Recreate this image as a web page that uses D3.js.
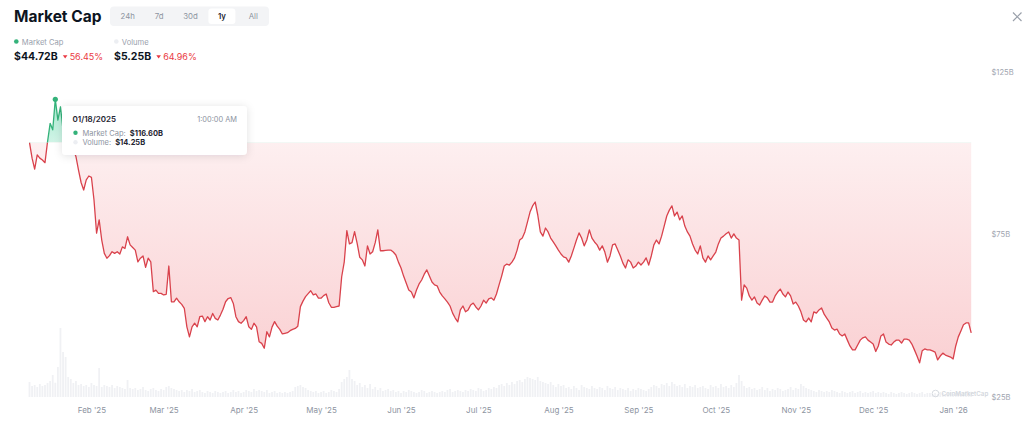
<!DOCTYPE html>
<html><head><meta charset="utf-8">
<script src="https://cdn.jsdelivr.net/npm/d3@7"></script>
<style>
body{margin:0;background:#fff;font-family:Inter,"Noto Sans",sans-serif;}
svg{display:block}
</style>
</head><body>
<svg id="c" width="1024" height="437"></svg>
<script>
const startDate = "2025-01-08";
const marketCap = [
103.3,98.5,95.1,99.5,98.5,97.9,97.1,103.6,109.2,107.2,
116.6,110.2,114.3,107.2,105.1,102,104,101,99,94.8,
91,88.7,91.8,93,92.6,85.6,75.4,79.5,73.3,69.2,
67.7,68.5,69.7,69.2,69.7,69,71.2,70.7,74.3,71.8,
71,70.2,66.6,67.7,68.4,64.9,67.7,66.6,57.4,57.9,
56.9,56.9,56.4,56.6,65.3,54.3,54.3,55.4,54.3,53.5,
52.3,46.6,43.5,46.6,47.7,46.6,49.7,49.9,48.2,49.7,
48.7,50.7,49.2,48.7,50.2,52,54.3,55.3,55.6,53.8,
49.7,48.2,47.7,48.5,49.7,46.6,45.8,47.7,46.6,42,
41.5,40,45.1,43.5,46.5,48.2,46.8,45.8,44.4,44.6,
44.8,45.4,45.8,46.1,46.8,52.8,54.5,55.9,56.8,57.7,
56.4,56.7,55.4,55.4,56.2,56.7,54,52.6,52.6,52.8,
53,62,66.6,76.2,72.1,72.5,75.9,72.3,68,67.2,
65.3,71.5,69,69.7,72.5,76.4,70,70,70.1,70.2,
70.2,69.6,68.7,66.5,64.7,62.2,60.1,57.9,57.3,55.5,
57.9,59.8,61,62.8,64.1,62.2,60.4,59.5,59.2,57.3,
56.1,55.2,54.2,53,50.8,49.3,48.1,51.8,53,51.2,
51.8,53.3,53.9,52.7,51.8,53,54.8,53.9,55.2,55.5,
54.8,56.7,59.5,62.2,65.3,65.9,65.6,66.5,67.8,70.2,
73.3,73.9,75.8,78.8,81.9,83.8,85,81,75.8,74.5,
77,75.8,73.9,72.7,71.5,70.2,69,68.1,67.8,66.5,
68.4,70.8,73.3,75.5,73.9,71.5,73.3,76.4,73.9,72.7,
71.8,70.2,71.5,69.6,66.5,68.4,71.8,72.1,70.2,68.4,
66.2,64.7,67.2,66.5,64.7,65.3,66.5,65.6,66.5,67.8,
65.6,68.4,71.8,73.3,72.1,74.5,77.6,80.7,82.5,83.8,
80.7,81.9,79.5,80.7,77.6,75.8,74.5,72.1,70.2,69,
71.5,67.8,66.5,68.4,67.2,68.4,69.6,72.1,73.9,74.5,
75.2,75.8,73.9,75.2,73.9,73.3,54.8,59.5,58.5,56.1,
54.8,55.8,53.9,53.3,54.8,56.1,55.5,54.2,54.2,56.1,
57.3,58.2,56.7,55.8,57.3,56.1,53.6,54.2,53,51.2,
48.7,48.1,49.3,48.1,51.2,50.8,51.8,52.4,50.5,49.3,
48.1,46.2,45.6,45.9,44.4,43.8,44.4,42.5,40.7,39.5,
39.5,41,42.5,43.2,43.5,42.5,41.9,41.3,39,40.7,
43.8,44.4,41.9,41.3,41,41.9,42.5,42.5,41.6,42.8,
42.8,42.5,41.3,39.5,37.6,35.5,39.2,39.8,39.5,39.5,
39.2,38.8,36.4,37.6,38.5,37.9,37.6,37.3,36.7,40.7,
43.5,45.3,47.2,47.8,47.8,44.72
];
const volume = [
15,11,12,10,13,11,12,14,16,22,
14.25,30,69,45,40,20,18,14,16,12,
13,11,12,10,14,12,11,29,10,12,
11,10,12,9,11,10,9,8,17,9,
8,9,7,8,10,7,6,8,9,7,
6,8,7,10,11,9,8,7,6,7,
5,7,6,8,5,6,7,5,4,6,
5,4,6,5,4,5,6,4,5,7,
5,6,4,5,7,6,5,8,6,7,
6,5,7,4,5,6,4,5,4,5,
4,5,6,10,11,12,10,9,7,6,
5,6,4,5,6,4,5,7,6,5,
8,15,18,20,27,18,16,12,14,10,
12,9,13,8,10,7,9,6,7,8,
6,7,5,6,4,6,5,7,6,5,
4,5,7,6,4,5,6,5,4,5,
6,5,7,8,5,6,7,6,5,7,
6,8,7,6,9,8,6,7,9,8,
10,9,12,13,11,14,12,15,13,16,
17,15,18,20,19,18,17,20,16,15,
14,13,15,12,10,13,11,12,9,10,
8,11,9,7,12,10,9,8,11,9,
8,10,9,7,11,9,8,10,7,9,
8,7,9,6,8,7,9,8,7,6,
8,10,12,11,9,13,12,14,11,15,
13,11,12,10,13,9,11,10,12,9,
10,11,9,8,12,10,11,9,13,10,
11,9,12,10,14,22,16,11,9,10,
8,9,7,8,10,7,9,6,8,7,
9,8,6,7,8,10,7,9,8,13,
11,9,8,7,6,5,7,6,5,6,
5,7,6,5,4,6,5,4,5,6,
4,5,6,4,5,4,5,6,4,5,
4,5,4,3,5,4,3,4,5,4,
3,4,5,4,3,4,5,3,4,4,
3,4,3,5,4,3,4,5,3,4,
5,4,5,6,5,5.25
];
const yTickValues = [25, 75, 125];
const tabLabels = ["24h", "7d", "30d", "1y", "All"];
const selectedTab = "1y";
const summaryLabels = ["Market Cap", "Volume"];
const summaryValues = ["$44.72B", "$5.25B"];
const summaryChanges = ["56.45%", "64.96%"];
const tooltipIndex = 10;
const tooltipDate = "01/18/2025";
const tooltipTime = "1:00:00 AM";
const tooltipMcap = "$116.60B";
const tooltipVol = "$14.25B";

const GREEN = "#34b27a", RED = "#d9424c", GRAY = "#8d94a1";
const svg = d3.select("#c");
const parse = d3.timeParse("%Y-%m-%d");
const dates = marketCap.map((_, i) => d3.timeDay.offset(parse(startDate), i));
const data = dates.map((d, i) => ({date: d, v: marketCap[i], vol: volume[i]}));

const x = d3.scaleTime().domain([dates[0], dates[dates.length - 1]]).range([29.5, 971.2]);
const y = d3.scaleLinear().domain([25, 125]).range([397, 72]);
const yVol = d3.scaleLinear().domain([0, 70]).range([397, 327]);
const yB = y(marketCap[0]);

const defs = svg.append("defs");
defs.append("clipPath").attr("id", "above").append("rect").attr("x", 0).attr("y", 0).attr("width", 1024).attr("height", yB);
defs.append("clipPath").attr("id", "below").append("rect").attr("x", 0).attr("y", yB).attr("width", 1024).attr("height", 437 - yB);
const rg = defs.append("linearGradient").attr("id", "rg").attr("gradientUnits", "userSpaceOnUse")
  .attr("x1", 0).attr("x2", 0).attr("y1", yB).attr("y2", 370);
rg.append("stop").attr("offset", 0).attr("stop-color", "#ea3943").attr("stop-opacity", 0.08);
rg.append("stop").attr("offset", 1).attr("stop-color", "#ea3943").attr("stop-opacity", 0.24);
const gg = defs.append("linearGradient").attr("id", "gg").attr("gradientUnits", "userSpaceOnUse")
  .attr("x1", 0).attr("x2", 0).attr("y1", y(117)).attr("y2", yB);
gg.append("stop").attr("offset", 0).attr("stop-color", "#16c784").attr("stop-opacity", 0.4);
gg.append("stop").attr("offset", 1).attr("stop-color", "#16c784").attr("stop-opacity", 0.2);
const f = defs.append("filter").attr("id", "sh").attr("x", "-20%").attr("y", "-40%").attr("width", "140%").attr("height", "180%");
f.append("feDropShadow").attr("dx", 0).attr("dy", 1).attr("stdDeviation", 4).attr("flood-color", "#1a2333").attr("flood-opacity", 0.12);

// header
svg.append("text").attr("x", 14).attr("y", 22).attr("font-size", 15.5).attr("font-weight", 700).attr("fill", "#0d1421").text("Market Cap");
svg.append("rect").attr("x", 110).attr("y", 6.5).attr("width", 159).attr("height", 19.5).attr("rx", 4).attr("fill", "#f3f4f6");
const tabX = d3.scalePoint().domain(tabLabels).range([127.7, 253.3]);
svg.append("rect").attr("x", tabX(selectedTab) - 13.5).attr("y", 8.5).attr("width", 27).attr("height", 15.5).attr("rx", 3).attr("fill", "#fff");
svg.selectAll(".tab").data(tabLabels).join("text").attr("x", d => tabX(d)).attr("y", 19)
  .attr("text-anchor", "middle").attr("font-size", 7.8).attr("font-weight", d => d === selectedTab ? 600 : 400)
  .attr("fill", d => d === selectedTab ? "#1f2532" : GRAY).text(d => d);

const sumX = [14, 114];
summaryLabels.forEach((lab, i) => {
  const x0 = sumX[i];
  svg.append("circle").attr("cx", x0 + 2.3).attr("cy", 41.5).attr("r", 2.3).attr("fill", i === 0 ? GREEN : "#eceef2");
  svg.append("text").attr("x", x0 + 7.8).attr("y", 44.5).attr("font-size", 7.6).attr("fill", "#9aa1ad").text(lab);
  const t = svg.append("text").attr("x", x0).attr("y", 60).attr("font-size", 10.5).attr("font-weight", 700).attr("fill", "#0d1421").text(summaryValues[i]);
  const w = t.node().getComputedTextLength();
  const tx = x0 + w + 7.5;
  svg.append("path").attr("d", `M${tx - 2.3},${55.3} L${tx + 2.3},${55.3} L${tx},${58.6} Z`).attr("fill", "#ea3943");
  svg.append("text").attr("x", tx + 4.5).attr("y", 60).attr("font-size", 9).attr("fill", "#ea3943").text(summaryChanges[i]);
});

// close icon
svg.append("path").attr("d", "M1013,12.5 L1021.5,21 M1021.5,12.5 L1013,21").attr("stroke", "#9aa0aa").attr("stroke-width", 1.2).attr("fill", "none");

// volume bars
svg.append("g").selectAll("rect").data(data).join("rect")
  .attr("x", d => x(d.date) - 0.9).attr("width", 1.8)
  .attr("y", d => yVol(d.vol)).attr("height", d => 397 - yVol(d.vol))
  .attr("fill", "#f0f1f4");

// areas
const area = d3.area().x(d => x(d.date)).y0(yB).y1(d => y(d.v));
const line = d3.line().x(d => x(d.date)).y(d => y(d.v));
svg.append("path").datum(data).attr("d", area).attr("fill", "url(#rg)").attr("clip-path", "url(#below)");
svg.append("path").datum(data).attr("d", area).attr("fill", "url(#gg)").attr("clip-path", "url(#above)");
svg.append("path").datum(data).attr("d", line).attr("fill", "none").attr("stroke", RED).attr("stroke-width", 1.3).attr("stroke-linejoin", "round").attr("clip-path", "url(#below)");
svg.append("path").datum(data).attr("d", line).attr("fill", "none").attr("stroke", GREEN).attr("stroke-width", 1.3).attr("stroke-linejoin", "round").attr("clip-path", "url(#above)");

// axes
const xAxis = d3.axisBottom(x).ticks(d3.timeMonth.every(1)).tickFormat(d3.timeFormat("%b '%y")).tickSize(0).tickPadding(0);
const gx = svg.append("g").attr("transform", "translate(0,407)").call(xAxis);
gx.select(".domain").remove();
gx.selectAll("text").attr("font-size", 8).attr("fill", GRAY).attr("font-family", "Inter,'Noto Sans',sans-serif").attr("dy", "0.71em");

const yAxis = d3.axisRight(y).tickValues(yTickValues).tickFormat(d => "$" + d + "B").tickSize(0).tickPadding(0);
const gy = svg.append("g").attr("transform", "translate(991.5,0)").call(yAxis);
gy.select(".domain").remove();
gy.selectAll("text").attr("font-size", 7.6).attr("fill", "#9fa5b0").attr("font-family", "Inter,'Noto Sans',sans-serif");

// watermark
svg.append("circle").attr("cx", 935.5).attr("cy", 393.5).attr("r", 3.3).attr("fill", "none").attr("stroke", "#d3d7dd").attr("stroke-width", 0.9);
svg.append("text").attr("x", 941.5).attr("y", 395.8).attr("font-size", 6.2).attr("font-weight", 600).attr("fill", "#d3d7dd").text("CoinMarketCap");

// peak marker
const tp = data[tooltipIndex];
svg.append("circle").attr("cx", x(tp.date)).attr("cy", y(tp.v)).attr("r", 2.6).attr("fill", GREEN);

// tooltip
const tg = svg.append("g");
tg.append("rect").attr("x", 62).attr("y", 106).attr("width", 185).attr("height", 49).attr("rx", 4).attr("fill", "#fff").attr("filter", "url(#sh)");
tg.append("text").attr("x", 72.5).attr("y", 122).attr("font-size", 8).attr("font-weight", 600).attr("fill", "#1f2532").text(tooltipDate);
tg.append("text").attr("x", 237).attr("y", 122).attr("text-anchor", "end").attr("font-size", 7.4).attr("fill", GRAY).text(tooltipTime);
const rows = [["Market Cap:", tooltipMcap, GREEN, 135.5], ["Volume:", tooltipVol, "#eceef2", 145]];
rows.forEach(r => {
  tg.append("circle").attr("cx", 75.5).attr("cy", r[3] - 2.7).attr("r", 2.2).attr("fill", r[2]);
  const l = tg.append("text").attr("x", 82.5).attr("y", r[3]).attr("font-size", 7.5).attr("fill", GRAY).text(r[0]);
  const w = l.node().getComputedTextLength();
  tg.append("text").attr("x", 82.5 + w + 4).attr("y", r[3]).attr("font-size", 7.5).attr("font-weight", 700).attr("fill", "#1f2532").text(r[1]);
});
</script>
</body></html>
